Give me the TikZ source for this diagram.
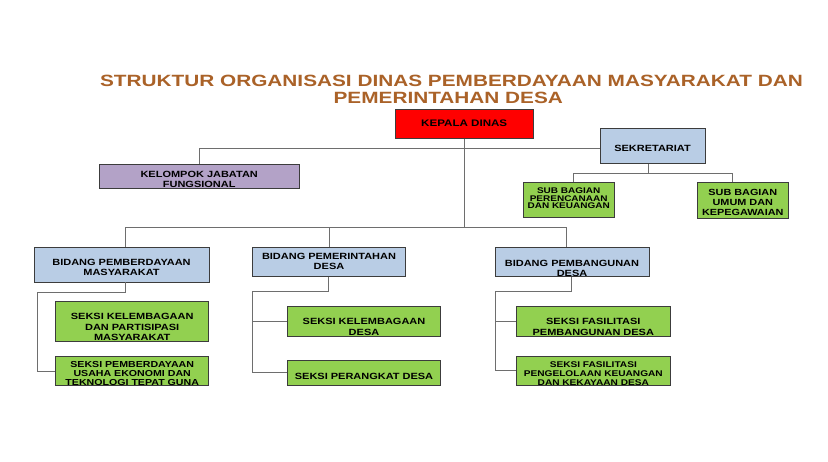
\documentclass[tikz,border=0pt]{standalone}
\usepackage{fontspec}
\setmainfont{Liberation Sans}[FakeStretch=1.22]
\newfontfamily\ttlfont{Liberation Sans}[FakeStretch=1.275]
\definecolor{titlebrown}{RGB}{170,98,40}
\definecolor{kdred}{RGB}{255,0,0}
\definecolor{bluebox}{RGB}{185,205,229}
\definecolor{purplebox}{RGB}{179,162,199}
\definecolor{greenbox}{RGB}{146,208,80}
\definecolor{boxline}{RGB}{60,60,60}
\definecolor{linegray}{RGB}{110,110,110}
\begin{document}
\begin{tikzpicture}[x=1pt,y=-1pt,
  box/.style={draw=boxline, line width=0.8pt, inner sep=0pt},
  txt/.style={inner sep=0pt, align=center, text=black, font=\bfseries\fontsize{9}{10}\selectfont},
  conn/.style={draw=linegray, line width=0.9pt},
  ttl/.style={inner sep=0pt, anchor=base, text=titlebrown, font=\ttlfont\bfseries\fontsize{16.3}{17.3}\selectfont}]
\useasboundingbox[fill=white] (0,0) rectangle (828,462);

% title
\node[ttl] (t1) at (451.5,86.7) {STRUKTUR ORGANISASI DINAS PEMBERDAYAAN MASYARAKAT DAN};
\node[ttl] (t2) at (448.3,103.3) {PEMERINTAHAN DESA};

% boxes
\node[box, fill=kdred, minimum width=138.3pt, minimum height=29pt] (kd) at (464.2,123.8) {};
\node[txt, font=\bfseries\fontsize{9.5}{10}\selectfont] (kdt) at (464.2,123.3) {KEPALA DINAS};

\node[box, fill=bluebox, minimum width=105pt, minimum height=35pt] (sek) at (652.5,145.8) {};
\node[txt] (sekt) at (652.5,148.3) {SEKRETARIAT};

\node[box, fill=purplebox, minimum width=200.3pt, minimum height=24.3pt] (kjf) at (199.2,176.2) {};
\node[txt, font=\bfseries\fontsize{9}{9.7}\selectfont] (kjft) at (199.2,179.2) {KELOMPOK JABATAN\\FUNGSIONAL};

\node[box, fill=greenbox, minimum width=90.7pt, minimum height=35pt] (sb1) at (568.7,200.2) {};
\node[txt, font=\bfseries\fontsize{8.2}{7.8}\selectfont] (sb1t) at (568.7,198.3) {SUB BAGIAN\\PERENCANAAN\\DAN KEUANGAN};

\node[box, fill=greenbox, minimum width=91pt, minimum height=36pt] (sb2) at (742.8,200.8) {};
\node[txt, font=\bfseries\fontsize{8.9}{10}\selectfont] (sb2t) at (742.8,202.6) {SUB BAGIAN\\UMUM DAN\\KEPEGAWAIAN};

\node[box, fill=bluebox, minimum width=175pt, minimum height=34.7pt] (bpm) at (121.5,264.7) {};
\node[txt] (bpmt) at (121.5,267.7) {BIDANG PEMBERDAYAAN\\MASYARAKAT};

\node[box, fill=bluebox, minimum width=153.4pt, minimum height=29.4pt] (bpd) at (329,262) {};
\node[txt] (bpdt) at (329,261) {BIDANG PEMERINTAHAN\\DESA};

\node[box, fill=bluebox, minimum width=154pt, minimum height=29.7pt] (bpb) at (572,261.9) {};
\node[txt] (bpbt) at (572,268.3) {BIDANG PEMBANGUNAN\\DESA};

\node[box, fill=greenbox, minimum width=153pt, minimum height=40.7pt] (sk1) at (132.2,321.3) {};
\node[txt, font=\bfseries\fontsize{9}{10.3}\selectfont] (sk1t) at (132.2,327) {SEKSI KELEMBAGAAN\\DAN PARTISIPASI\\MASYARAKAT};

\node[box, fill=greenbox, minimum width=153pt, minimum height=29.7pt] (sk2) at (132.2,370.9) {};
\node[txt, font=\bfseries\fontsize{8.7}{9.2}\selectfont] (sk2t) at (132.2,373.5) {SEKSI PEMBERDAYAAN\\USAHA EKONOMI DAN\\TEKNOLOGI TEPAT GUNA};

\node[box, fill=greenbox, minimum width=153.4pt, minimum height=30pt] (sk3) at (364,321.7) {};
\node[txt, font=\bfseries\fontsize{9}{10.6}\selectfont] (sk3t) at (364,327) {SEKSI KELEMBAGAAN\\DESA};

\node[box, fill=greenbox, minimum width=153.4pt, minimum height=25pt] (sk4) at (364,373.2) {};
\node[txt] (sk4t) at (364,376) {SEKSI PERANGKAT DESA};

\node[box, fill=greenbox, minimum width=153.3pt, minimum height=30pt] (sk5) at (593.3,321.7) {};
\node[txt, font=\bfseries\fontsize{9}{10.6}\selectfont] (sk5t) at (593.3,327) {SEKSI FASILITASI\\PEMBANGUNAN DESA};

\node[box, fill=greenbox, minimum width=153.3pt, minimum height=29pt] (sk6) at (593.3,371.2) {};
\node[txt, font=\bfseries\fontsize{8.3}{9.2}\selectfont] (sk6t) at (593.3,373.4) {SEKSI FASILITASI\\PENGELOLAAN KEUANGAN\\DAN KEKAYAAN DESA};

% junction coordinates
\coordinate (h1) at (464.2,148.3);
\coordinate (h2) at (464.2,227.3);
\coordinate (s1) at (648.3,173.3);
\coordinate (s1l) at (573.3,173.3);
\coordinate (s1r) at (732.3,173.3);
\coordinate (b1) at (125,227.3);
\coordinate (b3) at (566,227.3);
\coordinate (p1) at (125,292.7);
\coordinate (p1l) at (37.3,292.7);
\coordinate (d1) at (328.3,291);
\coordinate (d1l) at (252.3,291);
\coordinate (g1) at (571.7,291.7);
\coordinate (g1l) at (495,291.7);

% connectors
\draw[conn] (kd.south) -- (h2);
\draw[conn] (kjf.north) |- (h1) -- (sek.west |- h1);
\draw[conn] (sek.south -| s1) -- (s1);
\draw[conn] (sb1.north -| s1l) -- (s1l) -- (s1r) -- (sb2.north -| s1r);
\draw[conn] (bpm.north -| b1) -- (b1) -- (b3) -- (bpb.north -| b3);
\draw[conn] (bpd.north) -- (bpd.north |- b1);
% bidang pemberdayaan masyarakat
\draw[conn] (bpm.south -| p1) -- (p1) -- (p1l) |- (sk2.west |- 0,371.7);
% bidang pemerintahan desa
\draw[conn] (bpd.south -| d1) -- (d1) -- (d1l) |- (sk4.west |- 0,372.7);
\draw[conn] (d1l |- 0,321.7) -- (sk3.west |- 0,321.7);
% bidang pembangunan desa
\draw[conn] (bpb.south -| g1) -- (g1) -- (g1l) |- (sk6.west |- 0,370.7);
\draw[conn] (g1l |- 0,321.7) -- (sk5.west |- 0,321.7);
\end{tikzpicture}
\end{document}
